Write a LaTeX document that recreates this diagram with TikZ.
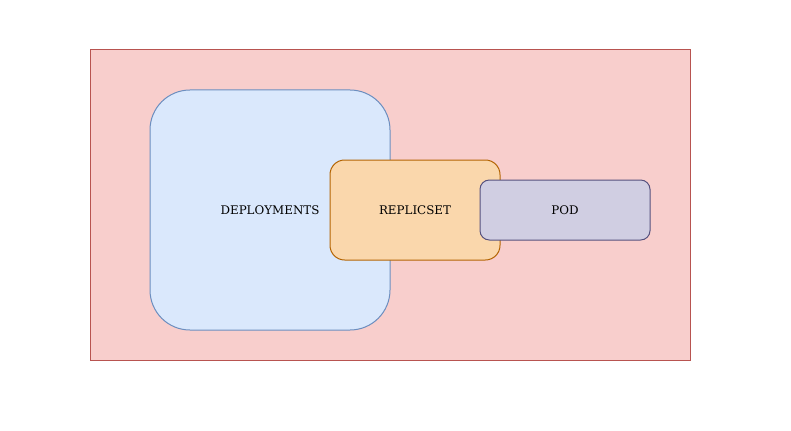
\documentclass[tikz,border=0pt]{standalone}
\usepackage{fontspec}
\setmainfont{DejaVu Serif}
\definecolor{redfill}{HTML}{F8CECC}\definecolor{redline}{HTML}{B85450}
\definecolor{bluefill}{HTML}{DAE8FC}\definecolor{blueline}{HTML}{6C8EBF}
\definecolor{orangefill}{HTML}{FAD7AC}\definecolor{orangeline}{HTML}{B46504}
\definecolor{purplefill}{HTML}{D0CEE2}\definecolor{purpleline}{HTML}{56517E}
\tikzset{box/.style={draw,line width=.75pt,inner sep=0pt,font=\fontsize{8.9}{10}\selectfont}}
\begin{document}
\begin{tikzpicture}[x=.75pt,y=-.75pt]
\useasboundingbox (0,0) rectangle (791,431);
\node[box,fill=redfill,draw=redline,minimum width=450pt,minimum height=232.5pt] (cluster) at (390,205){};
\node[box,fill=bluefill,draw=blueline,rounded corners=30pt,minimum width=180pt,minimum height=180pt] (deploy) at (270,210){DEPLOYMENTS};
\node[box,fill=orangefill,draw=orangeline,rounded corners=11pt,minimum width=127.5pt,minimum height=75pt] (replica) at (415,210){REPLICSET};
\node[box,fill=purplefill,draw=purpleline,rounded corners=7pt,minimum width=127.5pt,minimum height=45pt] (pod) at (565,210){POD};
\end{tikzpicture}
\end{document}
